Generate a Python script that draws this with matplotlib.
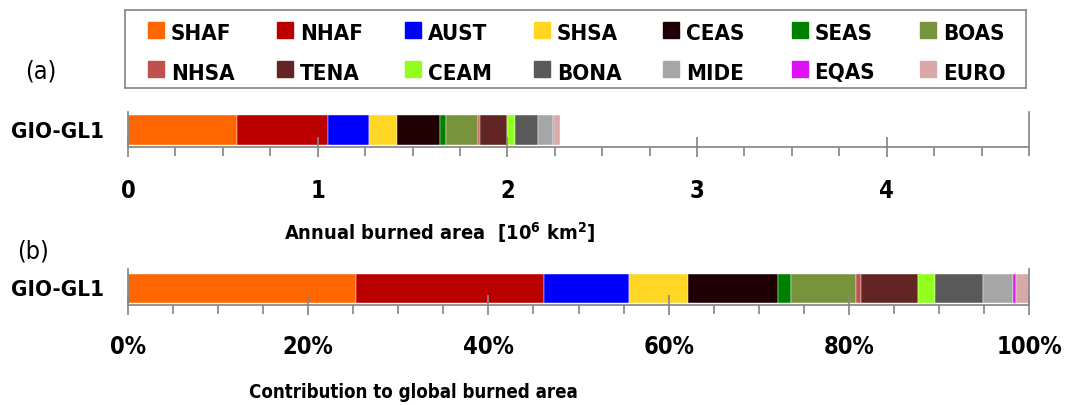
#!/usr/bin/env python3
"""Barras apiladas de área quemada por región (GIO-GL1)."""

import matplotlib.pyplot as plt
import numpy as np
from matplotlib.patches import Rectangle
from matplotlib.ticker import FixedLocator, MultipleLocator

plt.rcParams["font.family"] = ["DejaVu Sans"]
plt.rcParams["font.stretch"] = "condensed"
plt.rcParams["mathtext.fontset"] = "dejavusans"

W, H = 1069, 405
GRAY = "#888888"
WEIGHT = "bold"

PRODUCT = "GIO-GL1"
REGIONS = ["SHAF", "NHAF", "AUST", "SHSA", "CEAS", "SEAS", "BOAS",
           "NHSA", "TENA", "CEAM", "BONA", "MIDE", "EQAS", "EURO"]
# área quemada anual, 10^6 km2
BURNED = [0.577, 0.476, 0.215, 0.148, 0.230, 0.032, 0.165,
          0.011, 0.144, 0.044, 0.122, 0.075, 0.009, 0.032]
COLORS = ["#FF6600", "#BB0000", "#0000FF", "#FFD624", "#200004", "#008000",
          "#77933C", "#C0504D", "#632523", "#92FF1C", "#595959", "#A6A6A6",
          "#DD11F5", "#D9A9A9"]
ABS_TICKS = [0, 1, 2, 3, 4]
PCT_TICKS = [0, 20, 40, 60, 80, 100]


def px_axes(fig, x0, y0, x1, y1):
    """Ejes a partir de un rectángulo en píxeles (origen arriba-izquierda)."""
    return fig.add_axes([x0 / W, 1 - y1 / H, (x1 - x0) / W, (y1 - y0) / H])


def style_axis(ax, pad):
    for side in ("left", "right", "bottom"):
        ax.spines[side].set_color(GRAY)
        ax.spines[side].set_linewidth(1.25)
    ax.spines["top"].set_visible(False)
    ax.tick_params(axis="x", which="major", direction="inout", length=14,
                   width=1.25, color=GRAY, pad=pad, labelsize=17)
    ax.tick_params(axis="x", which="minor", direction="out", length=6.5,
                   width=1.25, color=GRAY)
    ax.tick_params(axis="y", length=0, pad=17, labelsize=16)
    for label in ax.get_xticklabels() + ax.get_yticklabels():
        label.set_fontweight(WEIGHT)


def stacked_bar(ax, values, height):
    left = np.concatenate([[0], np.cumsum(values)[:-1]])
    ax.barh([PRODUCT] * len(values), values, left=left, height=height,
            color=COLORS, edgecolor="white", linewidth=0.3)


def draw_legend(fig):
    ax = px_axes(fig, 125, 10, 1026, 88)
    ax.set_xlim(0, 901)
    ax.set_ylim(78, 0)
    ax.set_xticks([])
    ax.set_yticks([])
    for spine in ax.spines.values():
        spine.set_color(GRAY)
        spine.set_linewidth(1.25)
    for i, (name, color) in enumerate(zip(REGIONS, COLORS)):
        row, col = divmod(i, 7)
        x = 23 + col * 128.7
        y = 12 + row * 39
        ax.add_patch(Rectangle((x, y), 16, 16, color=color))
        ax.text(x + 23, y + 18.5, name, fontsize=16, fontweight=WEIGHT,
                va="baseline", ha="left")


def main():
    fig = plt.figure(figsize=(W / 100, H / 100), dpi=100)

    # (a) valores absolutos
    ax_a = px_axes(fig, 128, 112, 1029, 147)
    stacked_bar(ax_a, BURNED, 0.86)
    ax_a.set_ylim(-0.49, 0.51)
    ax_a.set_xlim(0, 4.75)
    ax_a.set_xticks(ABS_TICKS)
    ax_a.xaxis.set_minor_locator(MultipleLocator(0.25))
    style_axis(ax_a, pad=16)

    # (b) contribución porcentual
    burned = np.array(BURNED)
    pct = 100 * burned / burned.sum()
    ax_b = px_axes(fig, 128, 269, 1029, 305)
    stacked_bar(ax_b, pct, 0.80)
    ax_b.set_ylim(-0.46, 0.54)
    ax_b.set_xlim(0, 100)
    ax_b.set_xticks(PCT_TICKS, [f"{t}%" for t in PCT_TICKS])
    ax_b.xaxis.set_minor_locator(FixedLocator(np.arange(0, 101, 5)))
    style_axis(ax_b, pad=14.5)

    fig.text(440 / W, 1 - 233 / H,
             r"Annual burned area  [10$^{\mathbf{6}}$ km$^{\mathbf{2}}$]",
             fontsize=14.4, fontweight=WEIGHT, ha="center", va="center")
    fig.text(413 / W, 1 - 392 / H, "Contribution to global burned area",
             fontsize=13.4, fontweight=WEIGHT, ha="center", va="center")
    fig.text(41 / W, 1 - 72 / H, "(a)", fontsize=18, ha="center", va="center")
    fig.text(33 / W, 1 - 252 / H, "(b)", fontsize=18, ha="center", va="center")

    draw_legend(fig)
    fig.savefig("out.png", dpi=100)


if __name__ == "__main__":
    main()
